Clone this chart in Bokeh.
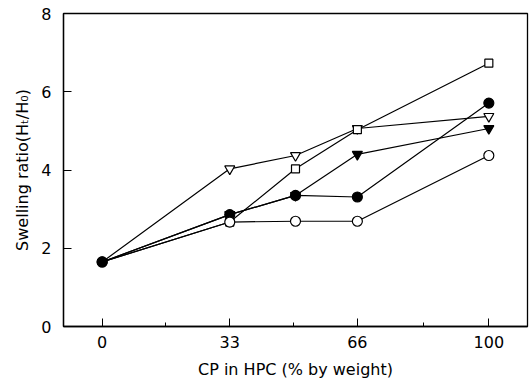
from bokeh.plotting import figure
from bokeh.models import FixedTicker, Range1d
from bokeh.embed import file_html
from bokeh.resources import INLINE

x = [0, 33, 50, 66, 100]
open_tri = [1.65, 4.03, 4.37, 5.06, 5.37]
open_sq = [1.65, 2.67, 4.03, 5.03, 6.73]
filled_tri = [1.65, 2.86, 3.35, 4.40, 5.06]
filled_circ = [1.65, 2.86, 3.35, 3.31, 5.71]
open_circ = [1.65, 2.67, 2.69, 2.69, 4.37]
x_ticks = [0, 33, 66, 100]
x_minor = [16.5, 49.5, 83]
y_ticks = [0, 2, 4, 6, 8]

p = figure(width=530, height=383, output_backend="svg", toolbar_location=None,
           x_range=Range1d(-10, 110), y_range=Range1d(0, 8),
           min_border_left=63, min_border_right=3, min_border_top=13, min_border_bottom=57)
p.outline_line_color = "black"
p.outline_line_width = 1.3
p.grid.visible = False
p.background_fill_color = "white"
p.border_fill_color = "white"

font = "DejaVu Sans"
for ax in (p.xaxis[0], p.yaxis[0]):
    ax.axis_line_color = "black"
    ax.axis_line_width = 1.3
    ax.major_tick_in = 8
    ax.major_tick_out = 0
    ax.minor_tick_in = 4
    ax.minor_tick_out = 0
    ax.major_tick_line_color = "black"
    ax.minor_tick_line_color = "black"
    ax.major_label_text_font = font
    ax.major_label_text_font_size = "16px"
    ax.major_label_text_color = "black"
    ax.axis_label_text_font = font
    ax.axis_label_text_font_size = "16px"
    ax.axis_label_text_font_style = "normal"
    ax.axis_label_text_color = "black"

p.xaxis.ticker = FixedTicker(ticks=x_ticks, minor_ticks=x_minor)
p.yaxis.ticker = FixedTicker(ticks=y_ticks)
p.yaxis.minor_tick_line_color = None
p.xaxis.major_label_standoff = 9
p.yaxis.major_label_standoff = 12
p.xaxis.axis_label = "CP in HPC (% by weight)"
p.yaxis.axis_label = "Swelling ratio(H\u209c/H\u2080)"
p.xaxis.axis_label_standoff = 9
p.yaxis.axis_label_standoff = 6

for ys in (open_tri, open_sq, filled_tri, filled_circ, open_circ):
    p.line(x, ys, line_color="black", line_width=1.2)

p.scatter(x[1:], open_tri[1:], marker="inverted_triangle", size=10, fill_color="white", line_color="black", line_width=1.2)
p.scatter(x[1:], open_sq[1:], marker="square", size=8, fill_color="white", line_color="black", line_width=1.2)
p.scatter(x[1:], filled_tri[1:], marker="inverted_triangle", size=10, fill_color="black", line_color="black", line_width=1.2)
p.scatter(x, filled_circ, marker="circle", size=10, fill_color="black", line_color="black", line_width=1.2)
p.scatter(x[1:], open_circ[1:], marker="circle", size=10, fill_color="white", line_color="black", line_width=1.2)
p.scatter(x[:1], filled_circ[:1], marker="circle", size=10, fill_color="black", line_color="black", line_width=1.2)

open("out.html", "w").write(file_html(p, INLINE))
